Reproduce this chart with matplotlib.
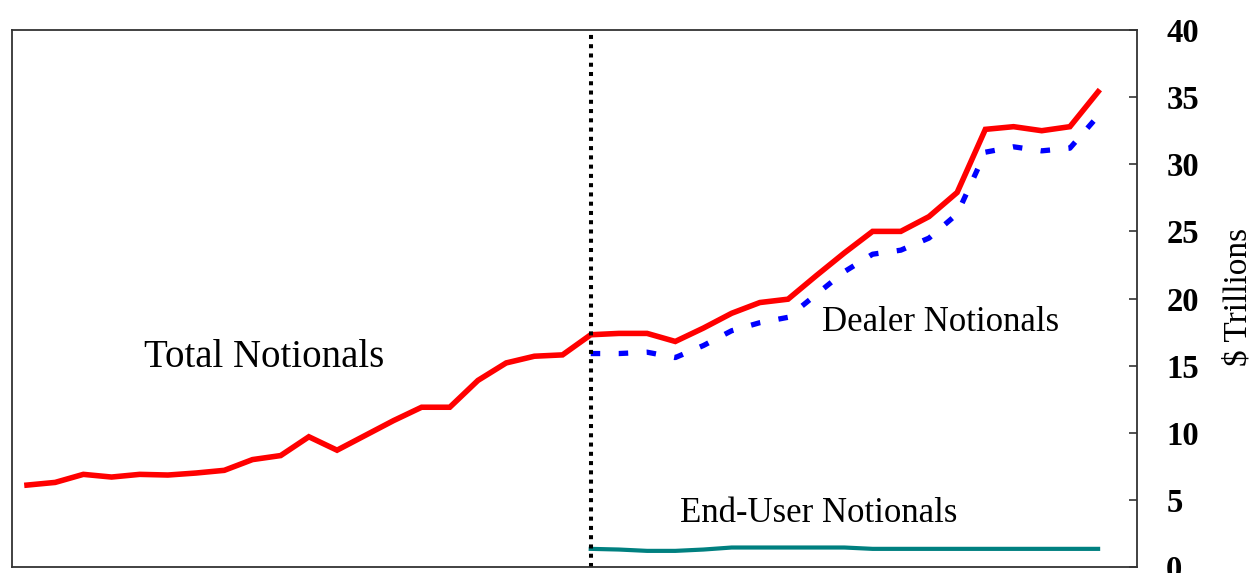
import matplotlib.pyplot as plt
import numpy as np

# quarterly observations, index 0..38
total = [6.1, 6.3, 6.9, 6.7, 6.9, 6.85, 7.0, 7.2, 8.0, 8.3,
         9.7, 8.7, 9.8, 10.9, 11.9, 11.9, 13.9, 15.2, 15.7, 15.8,
         17.3, 17.4, 17.4, 16.8, 17.8, 18.9, 19.7, 19.95, 21.7, 23.4,
         25.0, 25.0, 26.1, 27.9, 32.6, 32.8, 32.5, 32.8, 35.4]
dealer = [15.9, 15.9, 16.0, 15.6, 16.5, 17.6, 18.2, 18.6, 20.3, 22.0,
          23.3, 23.6, 24.5, 26.3, 30.9, 31.3, 31.0, 31.2, 33.6]
end_user = [1.35, 1.3, 1.2, 1.2, 1.3, 1.45, 1.45, 1.45, 1.45, 1.45,
            1.35, 1.35, 1.35, 1.35, 1.35, 1.35, 1.35, 1.35, 1.35]
split_at = 20
yticks = [0, 5, 10, 15, 20, 25, 30, 35, 40]

x_total = np.arange(len(total))
x_split = np.arange(split_at, split_at + len(dealer))

fig = plt.figure(figsize=(12.54, 5.73), dpi=100)
ax = fig.add_axes([0.0096, 0.0105, 0.8971, 0.9371])

ax.plot(x_total, total, color="#ff0000", lw=4.0, solid_joinstyle="miter")
ax.plot(x_split, dealer, color="#0000ff", lw=3.8, ls=(0, (1.8, 3.5)))
ax.plot(x_split, end_user, color="#008080", lw=3.0)
ax.axvline(split_at, color="black", lw=2.9, ls=(0, (1.0, 1.3)),
           dash_capstyle="butt")

ax.set_xlim(-0.53, 39.38)
ax.set_ylim(0, 40)
ax.set_xticks([])
ax.yaxis.tick_right()
ax.set_yticks(yticks)
ax.tick_params(axis="y", direction="in", length=6, width=1.2, pad=21,
               colors="#333333", labelcolor="black")
for lbl in ax.get_yticklabels():
    lbl.set_fontfamily("Liberation Serif")
    lbl.set_fontweight("bold")
    lbl.set_fontsize(23.5)
for s in ax.spines.values():
    s.set_linewidth(1.3)
    s.set_color("#333333")

ax.yaxis.set_label_position("right")
ylab = ax.set_ylabel("$ Trillions", family="Liberation Serif", fontsize=24)
ax.yaxis.set_label_coords(1.0898, 0.503)
ylab.set_va("center")
ylab.set_ha("center")

tfont = dict(family="Liberation Serif", ha="center", va="center")
ax.text(8.41, 15.6, "Total Notionals", fontsize=28, **tfont)
ax.text(32.4, 18.2, "Dealer Notionals", fontsize=25, **tfont)
ax.text(28.1, 4.0, "End-User Notionals", fontsize=25, **tfont)

fig.savefig("out.png", dpi=100)
plt.close(fig)
